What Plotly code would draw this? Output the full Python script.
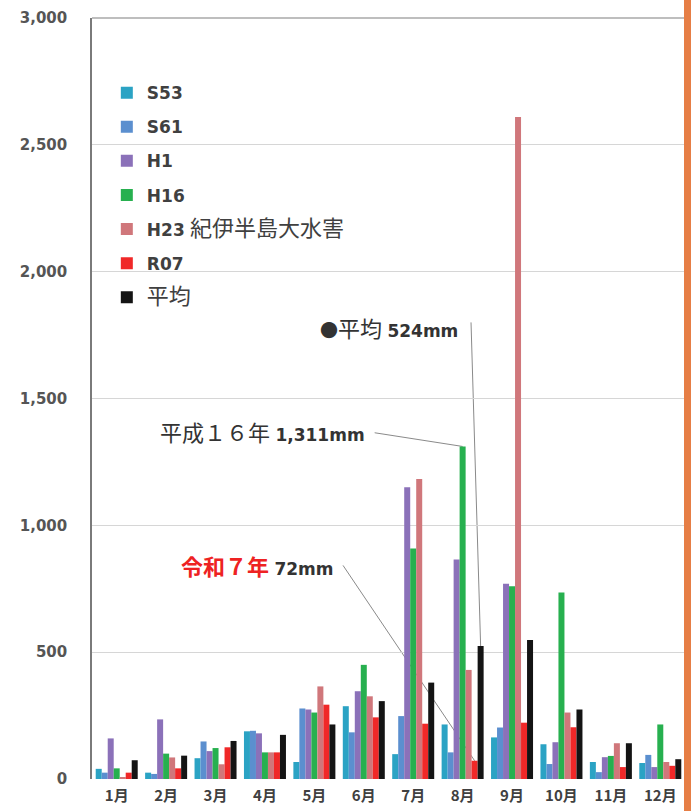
import plotly.graph_objects as go

# Monthly rainfall (mm) for notable years and the monthly average
months = ["1月", "2月", "3月", "4月", "5月", "6月", "7月", "8月", "9月", "10月", "11月", "12月"]
series_names = ["S53", "S61", "H1", "H16", "H23 紀伊半島大水害", "R07", "平均"]
s53 = [40, 25, 82, 188, 67, 287, 98, 215, 164, 137, 67, 63]
s61 = [25, 20, 148, 190, 278, 184, 248, 105, 203, 59, 27, 95]
h1 = [160, 235, 110, 180, 274, 346, 1150, 865, 770, 145, 86, 47]
h16 = [42, 100, 122, 105, 262, 450, 909, 1311, 760, 735, 91, 215]
h23 = [5, 85, 58, 105, 365, 326, 1183, 430, 2610, 262, 141, 67]
r07 = [25, 42, 125, 105, 293, 243, 218, 72, 222, 204, 47, 52]
avg = [74, 92, 150, 174, 215, 307, 380, 524, 548, 274, 141, 78]
y_ticks = [0, 500, 1000, 1500, 2000, 2500, 3000]

series_values = [s53, s61, h1, h16, h23, r07, avg]
colors = ["#2ba3c4", "#5b8fcf", "#8b71b9", "#27b04f", "#d0777b", "#f02828", "#141414"]

LATIN = "DejaVu Sans, Noto Sans CJK JP"
CJK = "Noto Sans CJK JP, DejaVu Sans"


def legend_label(name):
    parts = name.split(" ", 1)
    head = parts[0]
    if head.isascii():
        lab = f"<b>{head}</b>"
        if len(parts) > 1:
            lab += f" <span style='font-family:{CJK};font-size:22px'>{parts[1]}</span>"
        return lab
    return f"<span style='font-family:{CJK};font-size:22px'>{name}</span>"


fig = go.Figure()
for name, vals, col in zip(series_names, series_values, colors):
    fig.add_trace(go.Bar(
        x=months, y=vals, name=legend_label(name), legendgroup=name,
        marker=dict(color=col, line=dict(width=0)),
    ))

bargap = 0.15
n_series = len(series_names)
bw = (1 - bargap) / n_series


def bar_x(month_idx, series_idx):
    return month_idx + (series_idx - (n_series - 1) / 2) * bw


aug = months.index("8月")
i_avg = series_names.index("平均")
i_h16 = series_names.index("H16")
i_r07 = series_names.index("R07")

line_style = dict(color="#8a8a8a", width=1)
shapes = [
    # top frame line along the plot's upper edge
    dict(type="line", xref="paper", yref="paper", layer="above",
         x0=0, x1=1, y0=1, y1=1,
         line=dict(color="#a8a8a8", width=1.5)),
    dict(type="line", xref="x", yref="y", layer="below", line=line_style,
         x0=7.17, y0=1800, x1=bar_x(aug, i_avg), y1=avg[aug]),
    dict(type="line", xref="x", yref="y", layer="below", line=line_style,
         x0=5.22, y0=1365, x1=bar_x(aug, i_h16), y1=h16[aug]),
    dict(type="line", xref="x", yref="y", layer="below", line=line_style,
         x0=4.58, y0=842, x1=bar_x(aug, i_r07), y1=r07[aug]),
    # orange edge strip
    dict(type="rect", xref="paper", yref="paper", layer="above",
         x0=(684 - 92) / 593, x1=(700 - 92) / 593, y0=-0.05, y1=1.05,
         fillcolor="#e67e45", line=dict(width=0)),
]

annotations = [
    dict(xref="x", yref="y", x=6.95, y=1782, xanchor="right", yanchor="middle",
         showarrow=False,
         text=(f"<span style='font-family:{CJK};font-size:18px'>●</span>"
               f"<span style='font-family:{CJK};font-size:22px'>平均</span> <b>{avg[aug]}mm</b>"),
         font=dict(family=LATIN, size=17, color="#333333")),
    dict(xref="x", yref="y", x=5.06, y=1371, xanchor="right", yanchor="middle",
         showarrow=False,
         text=f"<span style='font-family:{CJK};font-size:22px'>平成１６年</span> <b>{h16[aug]:,}mm</b>",
         font=dict(family=LATIN, size=17, color="#333333")),
    dict(xref="x", yref="y", x=4.44, y=842, xanchor="right", yanchor="middle",
         showarrow=False,
         text=(f"<span style='font-family:{CJK};font-size:22px;color:#ee2222'><b>令和７年</b></span>"
               f" <b>{r07[aug]}mm</b>"),
         font=dict(family=LATIN, size=17, color="#333333")),
]

fig.update_layout(
    width=691, height=811,
    margin=dict(l=92, r=6, t=18, b=27),
    paper_bgcolor="white", plot_bgcolor="white",
    barmode="group", bargap=bargap, bargroupgap=0,
    showlegend=True,
    legend=dict(
        x=0.025, y=0.925, xanchor="left", yanchor="top",
        bgcolor="rgba(0,0,0,0)", tracegroupgap=9,
        font=dict(family=LATIN, size=17, color="#404040"),
        traceorder="grouped",
    ),
    shapes=shapes,
    annotations=annotations,
    xaxis=dict(
        showgrid=False, showline=False, zeroline=False, ticks="",
        tickfont=dict(family=CJK, size=15, color="#404040", weight="bold"),
        ticklabelstandoff=6,
        range=[-0.5, 11.5],
    ),
    yaxis=dict(
        range=[0, 3000], tickvals=y_ticks, tickformat=",",
        showgrid=True, gridcolor="#d6d6d6", gridwidth=1,
        showline=True, linecolor="#7a7a7a", linewidth=1.5,
        zeroline=False, ticks="",
        tickfont=dict(family=LATIN, size=15, color="#555555", weight="bold"),
        ticklabelstandoff=20,
    ),
)

fig.write_html("out.html")
